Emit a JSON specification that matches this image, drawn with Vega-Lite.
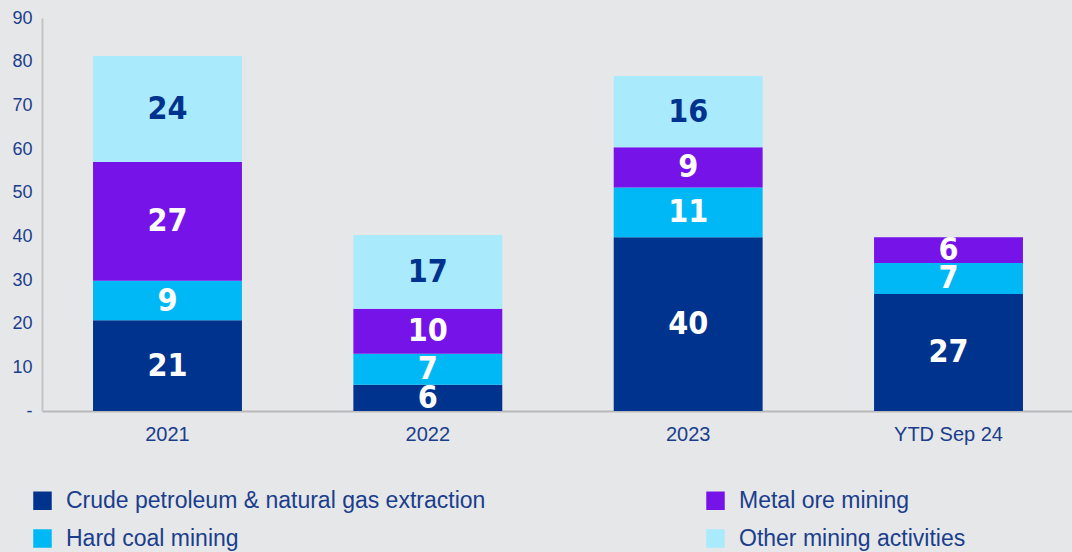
{
  "$schema": "https://vega.github.io/schema/vega-lite/v6.json",
  "autosize": {"type": "none"},
  "padding": {"left": 42, "top": 18, "right": 0, "bottom": 141},
  "width": 1032,
  "height": 393,
  "background": "#e6e7e9",
  "config": {
    "view": {"stroke": null},
    "font": "Liberation Sans"
  },
  "data": {
    "values": [
      {"year": "2021", "cat": "Crude petroleum & natural gas extraction", "value": 20.8},
      {"year": "2021", "cat": "Hard coal mining", "value": 9.0},
      {"year": "2021", "cat": "Metal ore mining", "value": 27.2},
      {"year": "2021", "cat": "Other mining activities", "value": 24.3},
      {"year": "2022", "cat": "Crude petroleum & natural gas extraction", "value": 6.0},
      {"year": "2022", "cat": "Hard coal mining", "value": 7.1},
      {"year": "2022", "cat": "Metal ore mining", "value": 10.3},
      {"year": "2022", "cat": "Other mining activities", "value": 16.9},
      {"year": "2023", "cat": "Crude petroleum & natural gas extraction", "value": 39.8},
      {"year": "2023", "cat": "Hard coal mining", "value": 11.4},
      {"year": "2023", "cat": "Metal ore mining", "value": 9.2},
      {"year": "2023", "cat": "Other mining activities", "value": 16.3},
      {"year": "YTD Sep 24", "cat": "Crude petroleum & natural gas extraction", "value": 26.8},
      {"year": "YTD Sep 24", "cat": "Hard coal mining", "value": 7.1},
      {"year": "YTD Sep 24", "cat": "Metal ore mining", "value": 5.9}
    ]
  },
  "encoding": {
    "x": {
      "field": "year", "type": "nominal", "title": null,
      "scale": {"paddingInner": 0.428, "paddingOuter": 0.196},
      "axis": {
        "labelAngle": 0, "ticks": false, "domainColor": "#b9b9b9", "domainWidth": 2,
        "labelFontSize": 20, "labelColor": "#1a3e8c", "labelPadding": 13
      }
    },
    "order": {"field": "cat", "type": "nominal", "sort": "ascending"}
  },
  "layer": [
    {
      "mark": {"type": "bar"},
      "encoding": {
        "y": {
          "field": "value", "type": "quantitative", "stack": "zero", "title": null,
          "scale": {"domain": [0, 90], "nice": false},
          "axis": {
            "values": [0, 10, 20, 30, 40, 50, 60, 70, 80, 90],
            "labelExpr": "datum.value == 0 ? '-' : datum.label",
            "grid": false, "ticks": false, "domainColor": "#c4c4c4", "domainWidth": 2,
            "labelFontSize": 18, "labelColor": "#1a3e8c", "labelPadding": 10
          }
        },
        "color": {
          "field": "cat", "type": "nominal", "title": null,
          "scale": {
            "domain": ["Crude petroleum & natural gas extraction", "Hard coal mining", "Metal ore mining", "Other mining activities"],
            "range": ["#00338d", "#00b8f5", "#7613e8", "#aaeafd"]
          },
          "legend": {
            "orient": "none", "legendX": -11, "legendY": 471,
            "columns": 2, "direction": "vertical",
            "symbolType": "square", "symbolSize": 342, "symbolStrokeWidth": 0, "symbolOpacity": 1,
            "labelFontSize": 23, "labelColor": "#1a3e8c", "labelOffset": 12,
            "labelLimit": 0, "rowPadding": 14, "columnPadding": 218
          }
        }
      }
    },
    {
      "mark": {"type": "text", "font": "'DejaVu Sans Condensed', 'Liberation Sans Narrow', 'DejaVu Sans', sans-serif", "fontWeight": "bold", "fontSize": 32, "baseline": "middle", "align": "center"},
      "encoding": {
        "y": {"field": "value", "type": "quantitative", "stack": "zero", "bandPosition": 0.5},
        "detail": {"field": "cat"},
        "text": {"field": "value", "type": "quantitative", "format": ".0f"},
        "color": {
          "condition": {"test": "datum.cat === 'Other mining activities'", "value": "#00338d"},
          "value": "white"
        }
      }
    }
  ]
}
